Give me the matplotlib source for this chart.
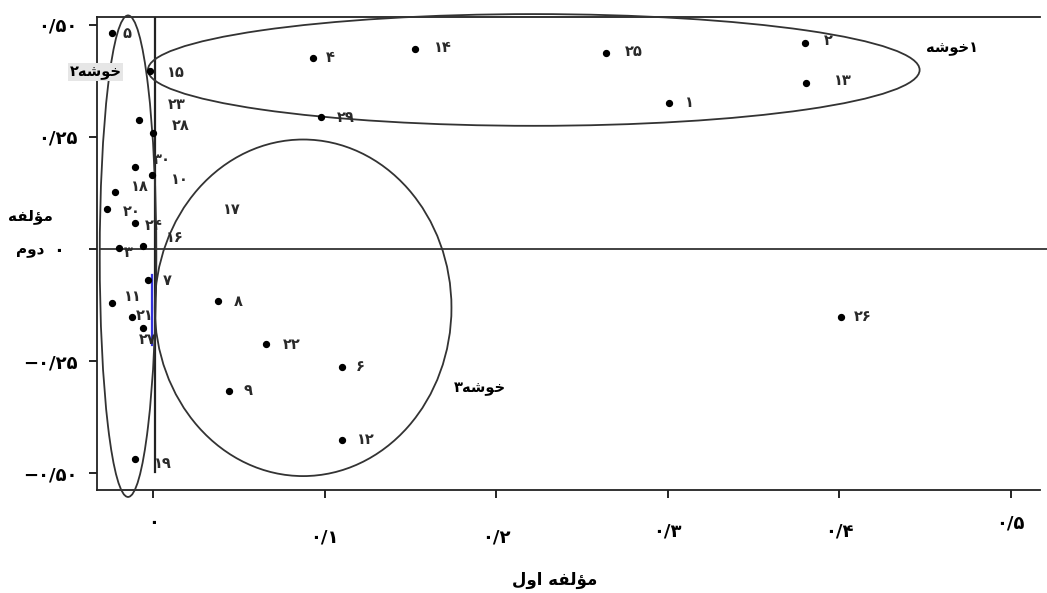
import matplotlib
matplotlib.use("Agg")
import matplotlib.pyplot as plt
from matplotlib.patches import Ellipse

plt.rcParams['font.family'] = ['DejaVu Sans']

# ---- data ----
labels = ["۵", "۱۵", "۲۳", "۲۸", "۳۰", "۱۰", "۱۸", "۲۰", "۲۴", "۳", "۱۶", "۷", "۱۱", "۲۱", "۲۷", "۱۹",
          "۴", "۱۴", "۲۵", "۱", "۲۹", "۲", "۱۳", "۲۶", "۸", "۲۲", "۶", "۹", "۱۲"]
comp1 = [-0.024, -0.002, -0.008, 0.000, -0.0105, -0.0006, -0.022, -0.027, -0.0105, -0.020, -0.006, -0.003,
         -0.024, -0.012, -0.006, -0.0105,
         0.093, 0.153, 0.264, 0.301, 0.098, 0.380, 0.381, 0.401, 0.038, 0.066, 0.110, 0.044, 0.110]
comp2 = [0.481, 0.396, 0.287, 0.258, 0.183, 0.165, 0.127, 0.089, 0.058, 0.002, 0.007, -0.069,
         -0.120, -0.151, -0.176, -0.468,
         0.425, 0.445, 0.437, 0.325, 0.294, 0.459, 0.370, -0.151, -0.116, -0.212, -0.263, -0.316, -0.425]

extra_label = "۱۷"
extra_pos = (0.046, 0.087)

xticks = [0, 0.1, 0.2, 0.3, 0.4, 0.5]
xticklabels = ["۰", "۰/۱", "۰/۲", "۰/۳", "۰/۴", "۰/۵"]
yticks = [0.5, 0.25, 0, -0.25, -0.5]
yticklabels = ["۰/۵۰", "۰/۲۵", "۰  ", "−۰/۲۵", "−۰/۵۰"]

# clusters: center x, center y, width, height
clusters = [(0.222, 0.399, 0.450, 0.249), (-0.0146, -0.016, 0.033, 1.073), (0.0875, -0.131, 0.173, 0.75)]

# pre-shaped (visual order) Persian strings
word_cluster = "\uFEEA\uFEB7\uFEEE\uFEA7"          # خوشه
cluster_names = [word_cluster + "۱", "۲" + word_cluster, "۳" + word_cluster]
cluster_text_pos = [(0.4660, 0.447), (-0.0335, 0.394), (0.1907, -0.310)]
xlabel = "\uFEDD\uFEED\uFE8D \uFEEA\uFED4\uFEDF\uFE86\uFEE3"   # مؤلفه اول
ylabel1 = "\uFEEA\uFED4\uFEDF\uFE86\uFEE3"                    # مؤلفه
ylabel2 = "\uFEE1\uFEED\uFEA9"                                # دوم

# label offsets in pixels (dx right, dy up)
offsets = [(15, 0), (26, -1), (37, 16), (28, 8), (27, 7), (28, -5), (25, 6), (25, -2), (19, -3), (10, -4),
           (32, 8), (19, -1), (21, 6), (12, 1), (5, -12), (28, -4),
           (18, 1), (27, 2), (28, 1), (20, 1), (25, 0), (24, 3), (36, 2), (22, 0), (20, 0), (25, 0), (19, 1),
           (19, 0), (24, 0)]

fig = plt.figure(figsize=(10.47, 5.93), dpi=100)
ax = fig.add_axes([97 / 1047, 1 - 490 / 593, (1040 - 97) / 1047, (490 - 17) / 593])
ax.set_xlim(-0.0327, 0.5172)
ax.set_ylim(-0.537, 0.517)

ax.spines['right'].set_visible(False)
for s in ['left', 'top', 'bottom']:
    ax.spines[s].set_linewidth(1.3)
    ax.spines[s].set_color('#222222')

# reference lines
ax.plot([-0.031, 0.524], [0, 0], color='#333333', lw=1.3, clip_on=False, zorder=2)
ax.plot([0.001, 0.001], [-0.497, 0.517], color='#222222', lw=1.6, zorder=2)
ax.plot([-0.0006, -0.0006], [-0.058, -0.214], color='#3333dd', lw=1.6, zorder=2)

ax.scatter(comp1, comp2, s=18, color='black', zorder=4)
for lab, x, y, (dx, dy) in zip(labels, comp1, comp2, offsets):
    ax.annotate(lab, xy=(x, y), xytext=(dx, dy), textcoords='offset pixels', ha='center', va='center',
                fontsize=10.5, fontweight='bold', color='#2a2a2a', zorder=5)
ax.text(extra_pos[0], extra_pos[1], extra_label, ha='center', va='center', fontsize=10.5,
        fontweight='bold', color='#2a2a2a')

for (cx, cy, w, h) in clusters:
    ax.add_patch(Ellipse((cx, cy), w, h, fill=False, edgecolor='#333333', lw=1.3, clip_on=False, zorder=3))

for i, (name, (tx, ty)) in enumerate(zip(cluster_names, cluster_text_pos)):
    kw = {}
    if i == 1:
        kw['bbox'] = dict(boxstyle='square,pad=0.1', facecolor='#e6e6e6', edgecolor='none')
    ax.text(tx, ty, name, ha='center', va='center', fontsize=10.5, fontweight='bold', color='black',
            zorder=6, clip_on=False, **kw)

# ticks
ax.set_xticks(xticks)
ax.set_xticklabels([])
ax.tick_params(axis='x', direction='out', length=6, width=1.2)
label_drop = [33, 47, 47, 42, 42, 33]
for x, lab, d in zip(xticks, xticklabels, label_drop):
    ax.annotate(lab, xy=(x, 0), xycoords=('data', 'axes fraction'), xytext=(0, -d),
                textcoords='offset pixels', ha='center', va='center', fontsize=13, fontweight='bold')

ax.set_yticks(yticks)
ax.set_yticklabels(yticklabels, fontsize=13, fontweight='bold')
ax.tick_params(axis='y', direction='out', length=6, width=1.2, pad=8)

fig.text(555 / 1047, 1 - 580 / 593, xlabel, ha='center', va='center', fontsize=12, fontweight='bold')
fig.text(30 / 1047, 1 - 217 / 593, ylabel1, ha='center', va='center', fontsize=11, fontweight='bold')
fig.text(30 / 1047, 1 - 250 / 593, ylabel2, ha='center', va='center', fontsize=11, fontweight='bold')

fig.savefig("out.png", dpi=100)
